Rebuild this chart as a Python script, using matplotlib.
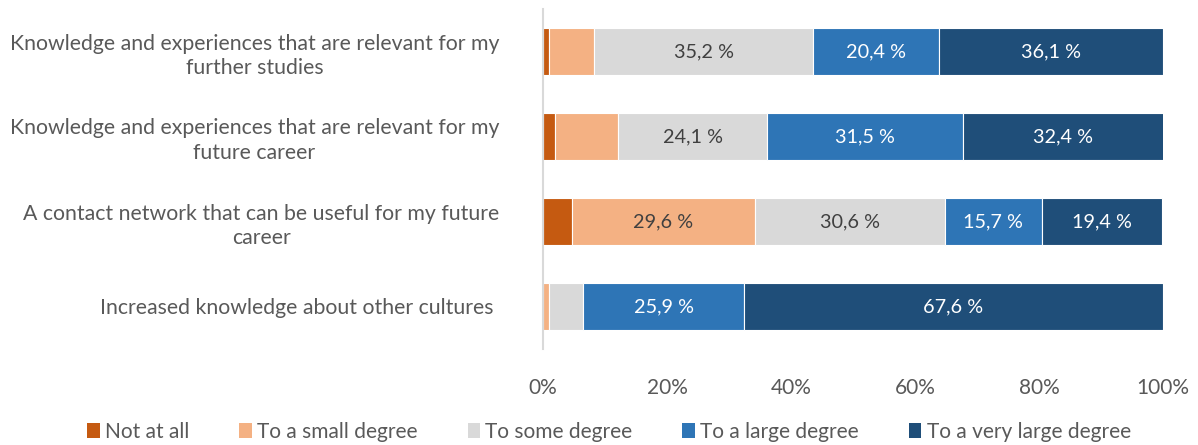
import matplotlib.pyplot as plt
from matplotlib.patches import Patch

categories = [
    "Knowledge and experiences that are relevant for my\nfurther studies",
    "Knowledge and experiences that are relevant for my\nfuture career",
    "A contact network that can be useful for my future\ncareer",
    "Increased knowledge about other cultures ",
]
levels = ["Not at all", "To a small degree", "To some degree",
          "To a large degree", "To a very large degree"]
not_at_all = [0.9, 1.9, 4.6, 0.0]
small_degree = [7.4, 10.2, 29.6, 0.9]
some_degree = [35.2, 24.1, 30.6, 5.6]
large_degree = [20.4, 31.5, 15.7, 25.9]
very_large_degree = [36.1, 32.4, 19.4, 67.6]

series = [not_at_all, small_degree, some_degree, large_degree, very_large_degree]
colors = ["#C55A11", "#F4B183", "#D9D9D9", "#2E75B6", "#1F4E79"]
text_colors = ["#404040", "#404040", "#404040", "white", "white"]
grey = "#595959"

plt.rcParams['font.family'] = ['Lato', 'DejaVu Sans']

fig = plt.figure(figsize=(11.98, 4.45), dpi=100)
ax = fig.add_axes([543 / 1198, 96 / 445, 620 / 1198, 340 / 445])

y = list(range(len(categories)))
left = [0.0] * len(categories)
for vals, col, tc in zip(series, colors, text_colors):
    ax.barh(y, vals, left=left, height=0.55, color=col, edgecolor="white", linewidth=0.8)
    for i, v in enumerate(vals):
        if v >= 12:
            ax.text(left[i] + v / 2, y[i], f"{v:.1f} %".replace(".", ","),
                    ha="center", va="center", color=tc, fontsize=14.3)
    left = [l + v for l, v in zip(left, vals)]

ax.set_xlim(0, 100)
ax.set_ylim(3.5, -0.5)
ax.set_xticks(range(0, 101, 20))
ax.set_xticklabels([f"{t}%" for t in range(0, 101, 20)])
ax.set_yticks(y)
ax.set_yticklabels(categories, multialignment="center", linespacing=1.3)
ax.tick_params(axis="x", length=0, pad=21, labelsize=15, labelcolor=grey)
ax.tick_params(axis="y", length=0, pad=31.5, labelsize=15.3, labelcolor=grey)
for s in ["top", "right", "bottom"]:
    ax.spines[s].set_visible(False)
ax.spines["left"].set_color("#D9D9D9")
ax.spines["left"].set_linewidth(1.5)

handles = [Patch(facecolor=c, label=l) for c, l in zip(colors, levels)]
fig.legend(handles=handles, loc="center", bbox_to_anchor=(0.5 + 10 / 1198, 13 / 445), ncol=5,
           frameon=False, fontsize=15, handlelength=0.6, handleheight=0.7,
           handletextpad=0.25, columnspacing=2.4, labelcolor=grey)

fig.savefig("out.png", dpi=100)
